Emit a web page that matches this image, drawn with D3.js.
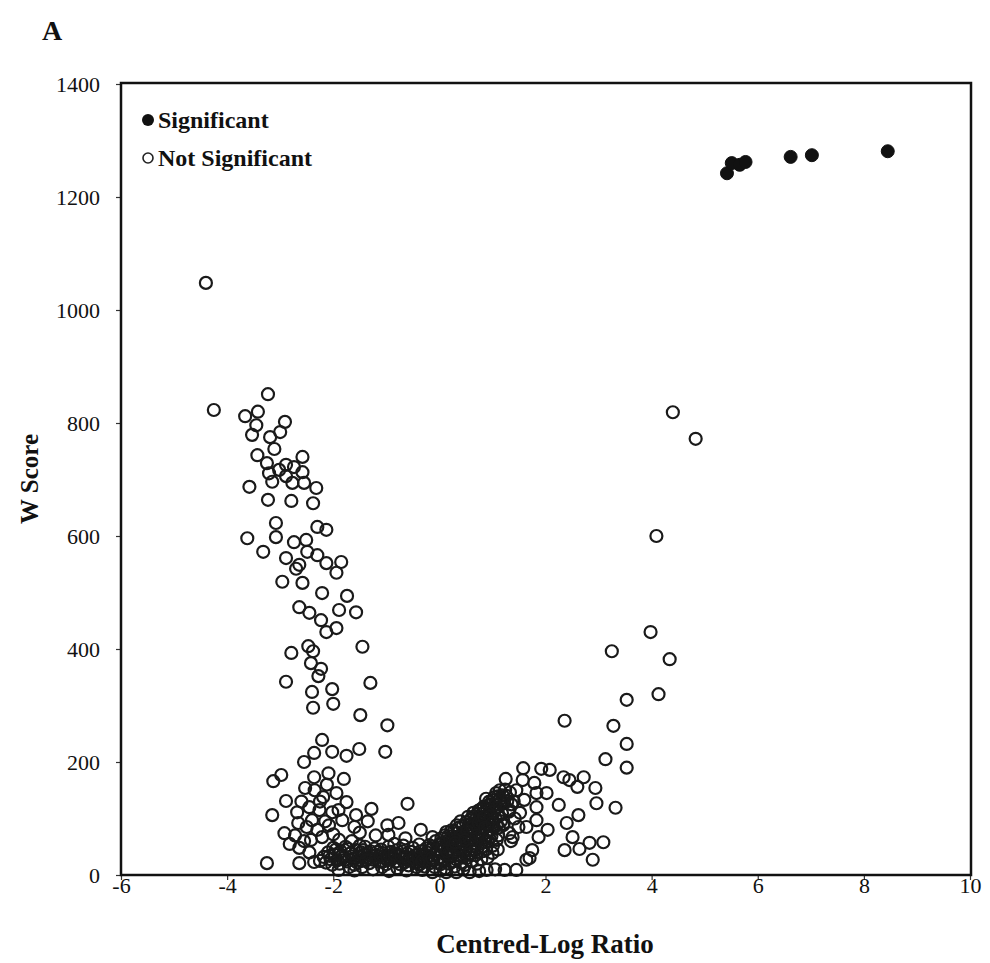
<!DOCTYPE html>
<html>
<head>
<meta charset="utf-8">
<script src="https://cdn.jsdelivr.net/npm/d3@7"></script>
<style>
  html, body { margin: 0; padding: 0; background: #fff; }
  svg { display: block; }
  svg text { font-family: "Liberation Serif", "Times New Roman", serif !important; fill: #111; }
</style>
</head>
<body>
<svg id="chart" width="990" height="963"></svg>
<script>
// ---------- data ----------
const xTicks = [-6, -4, -2, 0, 2, 4, 6, 8, 10];
const yTicks = [0, 200, 400, 600, 800, 1000, 1200, 1400];
const legendLabels = ["Significant", "Not Significant"];

const significant = [
  [5.42,1242],[5.51,1260],[5.66,1257],[5.77,1262],[6.62,1271],[7.02,1274],[8.45,1281]
];

const notSigOutliers = [
  [-4.40,1048],[-4.25,823],[4.40,819],[4.83,772],[4.09,600]
];

const notSigLeftArm = [
  [-3.23,851],[-3.66,812],[-3.42,820],[-3.45,796],[-3.53,779],[-2.91,802],[-3.00,784],[-3.19,775],
  [-3.11,754],[-3.43,743],[-3.25,729],[-2.58,740],[-2.89,726],[-2.74,722],[-3.21,711],[-3.02,717],
  [-2.58,713],[-3.15,696],[-2.77,694],[-2.55,694],[-2.89,706],[-2.32,685],[-3.58,687],[-3.23,664],
  [-2.79,662],[-2.38,658],[-3.08,623],[-3.08,598],[-3.62,596],[-2.30,616],[-2.13,611],[-3.32,572],
  [-2.74,589],[-2.51,593],[-2.49,572],[-2.89,561],[-2.30,566],[-2.64,549],[-2.13,552],[-1.85,554],
  [-2.70,542],[-2.96,519],[-2.58,517],[-1.94,535],[-2.21,499],[-1.74,494],[-2.64,474],[-1.89,469],
  [-1.57,465],[-2.45,464],[-2.23,451],
  [-1.94,437],[-2.13,430],[-2.79,393],[-2.47,405],[-2.38,396],[-1.45,404],[-2.42,375],[-2.23,365],
  [-2.28,352],[-2.89,342],[-1.30,340],[-2.40,324],[-2.02,329],[-2.00,303],[-2.38,296],[-1.49,283],
  [-0.98,265],[-2.21,239]
];

const notSigLowLeft = [
  [-2.36,216],[-2.55,200],[-2.02,218],[-1.75,211],[-1.51,223],[-1.02,218],[-3.13,166],[-2.98,177],
  [-2.36,173],[-2.09,180],[-2.53,154],[-2.89,131],[-3.15,106],[-2.92,74],[-3.25,21],[-2.45,120],
  [-2.19,138],[-1.94,145],[-1.75,129],[-2.68,111],[-2.26,115],[-2.02,111],[-1.57,106],[-1.28,117],
  [-0.60,126],[-2.66,92],[-2.40,97],[-2.08,88],[-1.83,97],[-1.60,85],[-2.64,48],[-2.42,62],
  [-2.21,67],[-1.89,62],[-0.98,88],[-0.77,92],[-0.64,65],[-0.96,71],[-2.64,21],[-2.36,23],
  [-2.02,18],[-1.70,14],[-1.45,14],[-1.08,14],[-0.79,12],[-0.43,14],
  [-2.30,80],[-2.15,95],[-2.00,72],[-1.90,115],[-2.25,130],[-1.65,60],[-1.50,75],[-1.40,50],
  [-2.50,85],[-2.55,60],[-2.72,70],[-2.45,40],[-2.82,55],[-2.35,150],[-2.60,130],[-2.12,160],
  [-1.80,170],[-1.35,95],[-1.20,70],[-1.10,45],[-0.85,55],[-0.70,42],[-0.50,48],[-0.35,80],
  [-0.13,67],[0.13,76]
];

const notSigBand = [
  [-2.18,32],[-2.10,40],[-2.05,28],[-1.98,36],[-1.92,26],[-1.86,42],[-1.80,31],[-1.74,24],
  [-1.68,38],[-1.62,29],[-1.57,44],[-1.52,33],[-1.46,25],[-1.41,37],[-1.36,30],[-1.30,42],
  [-1.25,27],[-1.19,35],[-1.14,23],[-1.08,39],[-1.03,30],[-0.98,26],[-0.92,41],[-0.88,33],
  [-0.82,24],[-0.77,36],[-0.71,29],[-0.66,22],[-0.61,38],[-0.56,31],[-0.51,25],[-0.46,35],
  [-0.41,28],[-0.36,20],[-0.31,33],[-2.00,48],[-1.77,50],[-1.50,52],[-1.22,47],[-0.96,50],
  [-0.68,52],[-2.25,25],[-1.88,20],[-1.60,18],[-1.32,21],[-1.00,19],[-0.58,17],
  [-2.14,22],[-1.95,45],[-1.83,35],[-1.71,46],[-1.55,22],[-1.44,44],[-1.28,34],[-1.17,41],
  [-1.06,24],[-0.90,28],[-0.80,44],[-0.74,19],[-0.63,30],[-0.53,41],[-0.44,23],[-0.38,54],
  [-2.07,34],[-1.90,38],[-1.78,27],[-1.65,33],[-1.48,40],[-1.38,26],[-1.20,30],[-1.11,33],
  [-0.94,35],[-0.85,38],[-0.72,34],[-0.59,26],[-0.48,30],[-0.40,37],
  [-0.32,9],[-0.13,5],[0.13,5],[0.32,5],[0.57,5],[0.89,9],[-1.90,9],[-1.60,8],[-1.25,10],
  [-0.95,7],[-0.62,8],[0.02,8],[0.45,10],[0.75,7],[1.05,10],[1.23,9],[1.45,9]
];

const notSigRise = [
  [-0.38,18],[-0.40,30],[-0.36,42],
  [-0.28,15],[-0.30,26],[-0.27,36],[-0.25,47],
  [-0.18,21],[-0.21,33],[-0.17,44],[-0.19,53],
  [-0.09,14],[-0.11,27],[-0.08,38],[-0.12,50],[-0.07,60],
  [0.02,19],[-0.01,31],[0.03,42],[0.00,55],[0.04,65],
  [0.11,12],[0.09,24],[0.12,36],[0.08,47],[0.13,59],[0.10,70],
  [0.19,20],[0.22,33],[0.18,46],[0.21,58],[0.17,69],[0.23,79],
  [0.29,15],[0.31,28],[0.28,41],[0.32,53],[0.30,66],[0.27,77],[0.33,88],
  [0.41,22],[0.38,35],[0.42,48],[0.39,61],[0.43,72],[0.37,84],[0.40,95],
  [0.49,18],[0.52,30],[0.48,44],[0.51,57],[0.47,69],[0.53,82],[0.50,93],[0.54,103],
  [0.61,25],[0.58,38],[0.62,51],[0.59,63],[0.63,76],[0.57,89],[0.60,100],[0.64,110],
  [0.71,20],[0.68,35],[0.72,48],[0.69,61],[0.73,75],[0.67,88],[0.70,101],[0.74,114],
  [0.79,28],[0.82,42],[0.78,56],[0.81,70],[0.77,83],[0.83,96],[0.80,108],[0.84,121],
  [0.91,31],[0.88,45],[0.92,60],[0.89,75],[0.93,90],[0.87,104],[0.90,117],[0.94,130],
  [1.01,52],[0.98,68],[1.03,84],[0.99,98],[1.02,112],[0.97,125],[1.04,138],
  [1.11,70],[1.08,88],[1.12,104],[1.09,119],[1.13,133],[1.07,145],
  [1.21,90],[1.18,109],[1.22,127],[1.19,141],[1.24,151],
  [1.31,112],[1.28,131],[1.33,146],
  [-0.33,24],[-0.24,40],[-0.14,30],[-0.05,45],[0.06,28],[0.15,52],[0.25,38],[0.35,62],
  [0.45,55],[0.55,72],[0.65,92],[0.75,66],[0.85,112],[0.95,80],[1.05,118],[1.15,128],
  [1.16,95],[0.86,58],[0.66,43],[0.46,33],[0.26,24],[0.96,110],[1.06,100],[0.76,98],
  [0.56,64],[0.36,47],[0.16,36],[-0.04,22],[1.26,140],[1.36,125],[1.14,150],[0.88,135],
  [0.05,50],[0.20,64],[0.34,74],[0.44,86],[0.58,97],[0.66,104],[0.78,116],[0.92,123],
  [1.00,132],[1.10,139],[0.24,52],[0.40,68],[0.52,77],[0.62,84],[0.74,92],[0.84,102],
  [0.96,104],[1.06,125],[0.14,42],[0.30,57],[0.48,62],[0.70,70],[0.86,84],[1.00,92],
  [0.60,44],[0.80,50],[0.36,30],[0.54,36],[0.94,66],[1.12,84]
];

const notSigRight = [
  [1.58,189],[1.92,188],[2.08,186],[2.34,173],[2.45,168],[2.72,173],[2.60,156],[2.94,154],
  [2.96,127],[3.32,119],[2.25,124],[2.62,106],[2.40,92],[2.51,67],[2.83,57],[3.09,58],
  [2.36,44],[2.64,46],[2.89,27],[1.87,67],[1.75,44],[1.64,27],[1.83,97],[1.83,120],
  [1.57,168],[1.83,145],[2.02,145],[1.60,133],[1.64,85],[1.38,67],[1.08,62],[1.79,163],
  [2.04,80],[1.32,74],[1.49,85],[1.70,30],[1.00,39],[1.32,115],[1.42,100],[1.20,88],
  [1.35,60],[1.10,45],[1.45,150],[1.40,130],[1.25,170],[1.52,110],
  [3.98,430],[3.25,396],[4.34,382],[4.13,320],[3.53,310],[2.36,273],[3.28,264],[3.53,232],
  [3.13,205],[3.53,190]
];

const notSignificant = [].concat(notSigOutliers, notSigLeftArm, notSigLowLeft, notSigBand, notSigRise, notSigRight);

// ---------- layout ----------
const svg = d3.select("#chart");
const plot = { left: 121, right: 971, top: 83, bottom: 875 };

const x = d3.scaleLinear().domain([-6, 10]).range([plot.left, plot.right - 1]);
const y = d3.scaleLinear().domain([0, 1400]).range([plot.bottom, plot.top + 1]);

// panel letter
svg.append("text").attr("x", 42).attr("y", 40)
  .attr("font-size", 28).attr("font-weight", "bold").text("A");

// points (not significant) - open rings
svg.append("g").selectAll("circle").data(notSignificant).join("circle")
  .attr("cx", d => x(d[0])).attr("cy", d => y(d[1])).attr("r", 6)
  .attr("fill", "none").attr("stroke", "#1a1a1a").attr("stroke-width", 2.2);

// significant - filled
svg.append("g").selectAll("circle").data(significant).join("circle")
  .attr("cx", d => x(d[0])).attr("cy", d => y(d[1])).attr("r", 6.5)
  .attr("fill", "#111").attr("stroke", "#111").attr("stroke-width", 1);

// axes
const xAxis = d3.axisBottom(x).tickValues(xTicks).tickSize(5).tickPadding(-3).tickFormat(d => d < 0 ? "-" + Math.abs(d) : String(d));
const yAxis = d3.axisLeft(y).tickValues(yTicks).tickSize(5).tickPadding(16).tickFormat(d3.format("d"));

const gx = svg.append("g").attr("transform", `translate(0,${plot.bottom})`).call(xAxis);
const gy = svg.append("g").attr("transform", `translate(${plot.left},0)`).call(yAxis);
[gx, gy].forEach(g => {
  g.attr("font-family", null);
  g.select(".domain").remove();
  g.selectAll(".tick line").attr("stroke", "#333").attr("stroke-width", 1.2);
  g.selectAll(".tick text").attr("font-size", 22).attr("fill", "#222");
});

// frame
svg.append("rect").attr("x", plot.left).attr("y", plot.top)
  .attr("width", plot.right - plot.left).attr("height", plot.bottom - plot.top)
  .attr("fill", "none").attr("stroke", "#111").attr("stroke-width", 2.5);

// axis titles
svg.append("text").attr("x", 545).attr("y", 953)
  .attr("text-anchor", "middle").attr("font-size", 27).attr("font-weight", "bold")
  .text("Centred-Log Ratio");
svg.append("text").attr("transform", `translate(38,${(plot.top + plot.bottom) / 2}) rotate(-90)`)
  .attr("text-anchor", "middle").attr("font-size", 25).attr("font-weight", "bold")
  .text("W Score");

// legend
const legend = svg.append("g");
legend.append("circle").attr("cx", 148).attr("cy", 120).attr("r", 6).attr("fill", "#111");
legend.append("text").attr("x", 158).attr("y", 120).attr("dy", "0.35em")
  .attr("font-size", 24).attr("font-weight", "bold").text(legendLabels[0]);
legend.append("circle").attr("cx", 148).attr("cy", 158).attr("r", 5)
  .attr("fill", "none").attr("stroke", "#222").attr("stroke-width", 1.6);
legend.append("text").attr("x", 158).attr("y", 158).attr("dy", "0.35em")
  .attr("font-size", 24).attr("font-weight", "bold").text(legendLabels[1]);
</script>
</body>
</html>
